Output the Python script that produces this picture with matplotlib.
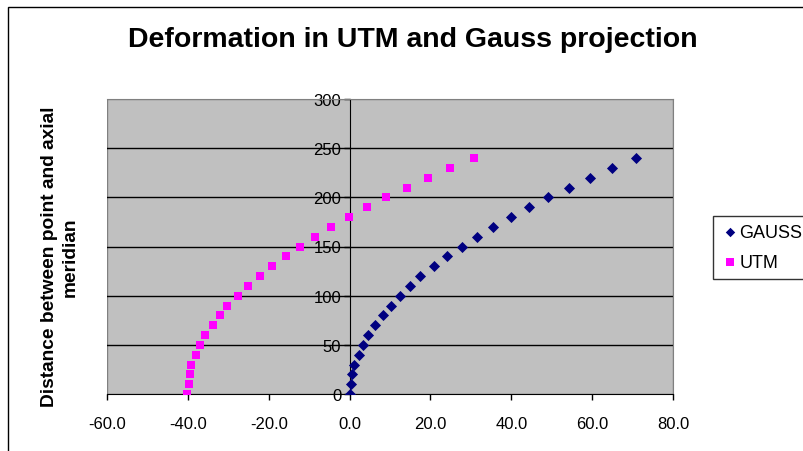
import numpy as np
import matplotlib
matplotlib.use('Agg')
import matplotlib.pyplot as plt
from matplotlib.patches import Rectangle
from matplotlib.ticker import FuncFormatter

plt.rcParams['font.family'] = ['Liberation Sans', 'DejaVu Sans']

# distance from axial meridian (km)
dist = [0, 10, 20, 30, 40, 50, 60, 70, 80, 90, 100, 110, 120,
        130, 140, 150, 160, 170, 180, 190, 200, 210, 220, 230, 240]

# deformation values
gauss = [0.0, 0.3, 0.7, 1.1, 2.3, 3.3, 4.5, 6.3, 8.2, 10.2, 12.5, 15.0, 17.5,
         21.0, 24.1, 27.8, 31.5, 35.4, 39.9, 44.3, 49.2, 54.2, 59.5, 64.9, 70.8]
utm = [-40.2, -39.8, -39.4, -39.1, -38.0, -36.9, -35.8, -33.9, -32.1, -30.2,
       -27.7, -25.1, -22.2, -19.2, -15.8, -12.3, -8.6, -4.5, -0.2, 4.2,
       8.9, 14.2, 19.3, 24.8, 30.7]

xticks = [-60, -40, -20, 0, 20, 40, 60, 80]
yticks = [0, 50, 100, 150, 200, 250, 300]

fig = plt.figure(figsize=(8.04, 4.52), dpi=100)
fig.patch.set_facecolor('white')

# outer chart border (runs off the right/bottom of the picture)
fig.patches.append(Rectangle((8/804, -0.1), 1.2, 1 - 8/452 + 0.1,
                             transform=fig.transFigure, fill=False,
                             edgecolor='black', lw=1))

ax = fig.add_axes([107/804, 1 - 395/452, 566/804, 295/452])
ax.set_facecolor('#C0C0C0')

for y in yticks[1:-1]:
    ax.axhline(y, color='black', lw=1, zorder=1)

ax.scatter(gauss, dist, marker='D', s=32, color='#000080', label='GAUSS',
           zorder=3, linewidths=0)
ax.scatter(utm, dist, marker='s', s=38, color='#FF00FF', label='UTM',
           zorder=3, linewidths=0)

ax.set_xlim(-60, 80)
ax.set_ylim(0, 300)
ax.set_xticks(xticks)
ax.set_yticks(yticks)
ax.xaxis.set_major_formatter(FuncFormatter(lambda v, p: f'{v:.1f}'))

ax.spines['left'].set_position(('data', 0))
ax.spines['left'].set_zorder(2)
ax.spines['top'].set_color('#808080')
ax.spines['right'].set_color('#808080')
ax.add_patch(Rectangle((0, 0), 1, 1, transform=ax.transAxes, fill=False,
                       edgecolor='#808080', lw=1, zorder=0.5))
ax.tick_params(direction='out', length=4, width=1, labelsize=12,
               colors='black')
ax.tick_params(axis='x', pad=12)
ax.tick_params(axis='y', pad=2)

fig.text(0.5 * (126 + 699) / 804, 1 - 40/452,
         'Deformation in UTM and Gauss projection', fontsize=20.5,
         fontweight='bold', ha='center', va='center')
fig.text(60/804, 1 - 257/452, 'Distance between point and axial\nmeridian',
         rotation=90, ha='center', va='center', fontsize=13.8,
         fontweight='bold', linespacing=1.3)

leg = fig.legend(loc='upper left', bbox_to_anchor=(713/804, 1 - 217/452),
                 borderaxespad=0, frameon=True, fancybox=False, fontsize=13,
                 handletextpad=0.0, borderpad=0.45, labelspacing=0.7,
                 handlelength=1.0, markerscale=0.85)
leg.get_frame().set_edgecolor('black')
leg.get_frame().set_linewidth(1)

fig.savefig('out.png', dpi=100)
